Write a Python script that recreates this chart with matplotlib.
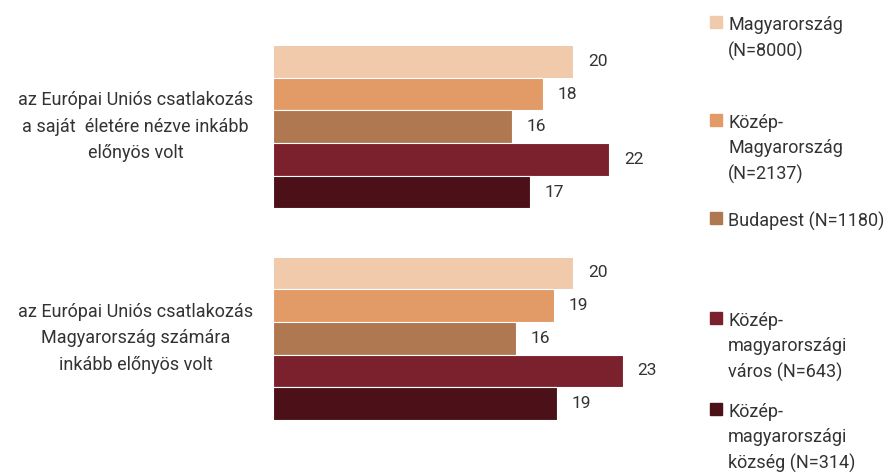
import matplotlib.pyplot as plt
import numpy as np

plt.rcParams['font.family'] = ['Roboto', 'DejaVu Sans']

categories = ['az Európai Uniós csatlakozás\na saját  életére nézve inkább\nelőnyös volt',
              'az Európai Uniós csatlakozás\nMagyarország számára\ninkább előnyös volt']
series = ['Magyarország\n(N=8000)',
          'Közép-\nMagyarország\n(N=2137)',
          'Budapest (N=1180)',
          'Közép-\nmagyarországi\nváros (N=643)',
          'Közép-\nmagyarországi\nközség (N=314)']
values = [[20.0, 18.0, 15.9, 22.4, 17.1],
          [20.0, 18.7, 16.2, 23.3, 18.9]]
colors = ['#F1C9AB', '#E29A66', '#B07850', '#7B202D', '#4C1118']
txt = '#333333'

W, H = 890, 474
fig = plt.figure(figsize=(W / 100, H / 100), dpi=100)
ax = fig.add_axes([273 / W, (H - 420) / H, 427 / W, 375 / H])

gap = 6.47
for g, vals in enumerate(values):
    ys = g * gap + np.arange(len(vals))
    ax.barh(ys, vals, height=1.0, color=colors, edgecolor='white', linewidth=0.8)
    for y, v in zip(ys, vals):
        ax.text(v + 1.0, y, '%.0f' % v, va='center', ha='left', fontsize=12.5, color=txt)
    ax.text(-0.322, ys.mean(), categories[g], transform=ax.get_yaxis_transform(),
            ha='center', va='center', multialignment='center', fontsize=13,
            color=txt, linespacing=1.6)

ax.set_xlim(0, 427 / 15)
ax.set_ylim(gap + 4.5, -0.5)
ax.axis('off')

# legend drawn by hand to keep the uneven spacing
leg_y = [22, 120, 218, 318, 409]
for c, lab, y in zip(colors, series, leg_y):
    fig.patches.append(plt.Rectangle((710 / W, (H - y - 6) / H), 12 / W, 12 / H,
                                     transform=fig.transFigure, color=c))
    fig.text(728 / W, (H - y + 6) / H, lab, ha='left', va='top', fontsize=13,
             color=txt, linespacing=1.5)

fig.savefig('out.png', dpi=100)
